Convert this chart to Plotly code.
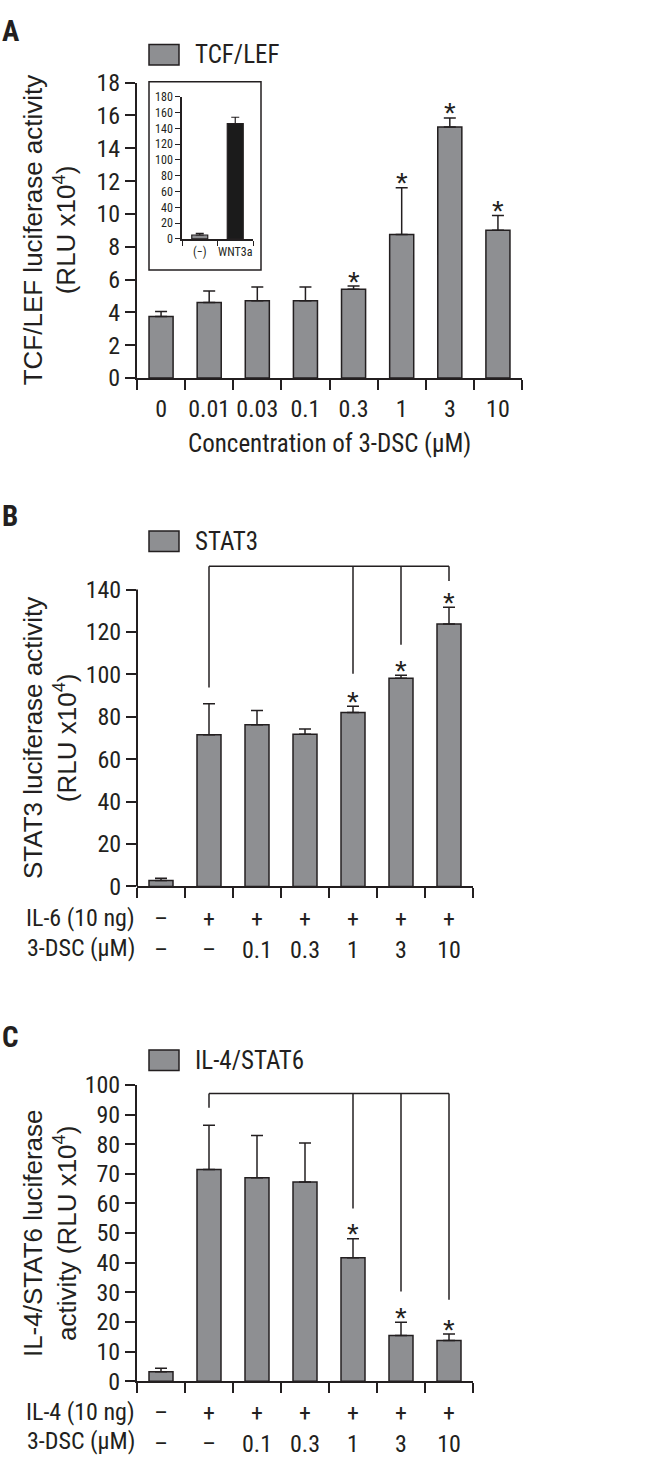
import plotly.graph_objects as go

W, H = 657, 1473
COND = "Roboto Condensed, Liberation Sans Narrow, Arial Narrow, sans-serif"
REG = "Liberation Sans, Arial, sans-serif"
INK = "#231f20"
GRAY = "#8e8f92"
FS = 24

# ---------------- data ----------------
# Panel A: TCF/LEF
a_cats = ["0", "0.01", "0.03", "0.1", "0.3", "1", "3", "10"]
a_vals = [3.75, 4.6, 4.7, 4.7, 5.4, 8.75, 15.3, 9.0]
a_err_top = [4.05, 5.3, 5.55, 5.55, 5.6, 11.6, 15.85, 9.9]
a_sig = [False, False, False, False, True, True, True, True]

# Inset of panel A
inset_cats = ["(−)", "WNT3a"]
inset_vals = [5, 146]
inset_err_top = [7, 154]

# Panels B and C share the treatment rows
il_row = ["–", "+", "+", "+", "+", "+", "+"]
dsc_row = ["–", "–", "0.1", "0.3", "1", "3", "10"]

# Panel B: STAT3
b_vals = [2.8, 71.5, 76.2, 71.7, 82.0, 98.2, 123.7]
b_err_top = [3.8, 86.2, 83.0, 74.2, 85.0, 99.6, 131.7]
b_sig = [False, False, False, False, True, True, True]
b_bracket_level = 151
b_bracket_drops = {1: 93.8, 4: 100.3, 5: 114, 6: 144}

# Panel C: IL-4/STAT6
c_vals = [3.2, 71.5, 68.7, 67.2, 41.7, 15.4, 13.7]
c_err_top = [4.4, 86.4, 82.9, 80.4, 48.1, 19.9, 15.9]
c_sig = [False, False, False, False, True, True, True]
c_bracket_level = 97.1
c_bracket_drops = {1: 92.3, 4: 58.3, 5: 30.3, 6: 27.5}

bc_cats = [f"{a}<br>{b}" for a, b in zip(il_row, dsc_row)]


def px(x):
    return x / W


def py(y):
    return 1 - y / H


fig = go.Figure()
annotations = []
shapes = []


def add_bars(x, vals, tops, xa, ya, colors=GRAY, width=0.5, errw=6, lw=1.5):
    fig.add_trace(go.Bar(
        x=x, y=vals, xaxis=xa, yaxis=ya, width=width,
        marker=dict(color=colors, line=dict(color=INK, width=lw)),
        error_y=dict(type="data", symmetric=False,
                     array=[t - v for t, v in zip(tops, vals)],
                     arrayminus=[0] * len(vals),
                     color=INK, thickness=lw, width=errw),
        showlegend=False, hoverinfo="skip"))


def add_stars(tops, sig, xa, ya):
    # x given as category index so numeric-looking category names are not misread
    for i, (t, s) in enumerate(zip(tops, sig)):
        if s:
            annotations.append(dict(text="*", x=i, y=t, xref=xa, yref=ya, showarrow=False,
                                    xanchor="center", yanchor="middle", yshift=5,
                                    font=dict(family=REG, size=30, color=INK)))


add_bars(a_cats, a_vals, a_err_top, "x", "y")
add_stars(a_err_top, a_sig, "x", "y")
add_bars(inset_cats, inset_vals, inset_err_top, "x4", "y4",
         colors=[GRAY, "#1b1b1b"], width=0.45, errw=4, lw=1.2)
add_bars(bc_cats, b_vals, b_err_top, "x2", "y2")
add_stars(b_err_top, b_sig, "x2", "y2")
add_bars(bc_cats, c_vals, c_err_top, "x3", "y3")
add_stars(c_err_top, c_sig, "x3", "y3")

axis_common = dict(showgrid=False, zeroline=False, ticks="outside", ticklen=10,
                   tickwidth=2, tickcolor=INK, linecolor=INK, linewidth=2,
                   tickfont=dict(family=COND, size=FS, color=INK), fixedrange=True)

xcat = dict(axis_common, type="category", tickson="boundaries", showline=True, tickangle=0)

fig.update_layout(
    width=W, height=H, autosize=False,
    margin=dict(l=0, r=0, t=0, b=0),
    paper_bgcolor="white", plot_bgcolor="rgba(0,0,0,0)",
    xaxis=dict(xcat, domain=[px(137), px(522)], anchor="y", range=[-0.5, 7.5],
               ticklabelstandoff=8),
    yaxis=dict(axis_common, domain=[py(371), py(70)], anchor="x", range=[0, 18],
               dtick=2, showline=True),
    xaxis2=dict(xcat, domain=[px(137), px(473)], anchor="y2", range=[-0.5, 6.5],
                ticklabelstandoff=10),
    yaxis2=dict(axis_common, domain=[py(889.3), py(554.3)], anchor="x2", range=[0, 155],
                tickvals=list(range(0, 141, 20)), showline=False),
    xaxis3=dict(xcat, domain=[px(137), px(473)], anchor="y3", range=[-0.5, 6.5],
                ticklabelstandoff=9),
    yaxis3=dict(axis_common, domain=[py(1393.7), py(1091.7)], anchor="x3", range=[0, 100],
                dtick=10, showline=True),
    xaxis4=dict(xcat, domain=[px(182), px(253)], anchor="y4", range=[-0.5, 1.5],
                ticklen=5, tickwidth=1.2, linewidth=1.5, ticklabelstandoff=1,
                tickfont=dict(family=COND, size=12, color=INK)),
    yaxis4=dict(axis_common, domain=[py(229.3), py(84.3)], anchor="x4", range=[0, 180],
                dtick=20, showline=True, ticklen=5, tickwidth=1.2, linewidth=1.5,
                tickfont=dict(family=COND, size=12, color=INK)),
)

# B y-axis line (axis range extended to hold the bracket)
shapes.append(dict(type="line", xref="x2 domain", yref="y2", x0=0, x1=0, y0=0, y1=140,
                   line=dict(color=INK, width=2)))


def bracket(xa, ya, level, drops):
    ks = sorted(drops)
    shapes.append(dict(type="line", xref=xa, yref=ya, x0=ks[0], x1=ks[-1], y0=level, y1=level,
                       line=dict(color=INK, width=1.5)))
    for k in ks:
        shapes.append(dict(type="line", xref=xa, yref=ya, x0=k, x1=k, y0=level, y1=drops[k],
                           line=dict(color=INK, width=1.5)))


bracket("x2", "y2", b_bracket_level, b_bracket_drops)
bracket("x3", "y3", c_bracket_level, c_bracket_drops)

# inset frame
shapes.append(dict(type="rect", xref="paper", yref="paper", x0=px(149), x1=px(261),
                   y0=py(261), y1=py(69), line=dict(color=INK, width=1.5)))

legend_items = [("TCF/LEF", 31), ("STAT3", 527), ("IL-4/STAT6", 1056)]
for name, top in legend_items:
    shapes.append(dict(type="rect", xref="paper", yref="paper", x0=px(149), x1=px(179),
                       y0=py(top + 21), y1=py(top), fillcolor=GRAY,
                       line=dict(color=INK, width=1.5)))
    annotations.append(dict(text=name, xref="paper", yref="paper", x=px(193), y=py(top + 10.5),
                            xanchor="left", yanchor="middle", showarrow=False,
                            font=dict(family=COND, size=FS + 1, color=INK)))

for letter, yc in [("A", 17), ("B", 512), ("C", 1043)]:
    annotations.append(dict(text=f"<b>{letter}</b>", xref="paper", yref="paper", x=0, y=py(yc),
                            xanchor="left", yanchor="middle", showarrow=False,
                            font=dict(family=COND, size=29, color=INK)))

ytitles = [("TCF/LEF luciferase activity<br>(RLU x10<sup>4</sup>)", 220.5),
           ("STAT3 luciferase activity<br>(RLU x10<sup>4</sup>)", 738),
           ("IL-4/STAT6 luciferase<br>activity (RLU x10<sup>4</sup>)", 1242.7)]
for txt, yc in ytitles:
    annotations.append(dict(text=txt, xref="paper", yref="paper", x=px(50), y=py(yc),
                            xanchor="center", yanchor="middle", textangle=-90, showarrow=False,
                            font=dict(family=REG, size=26, color=INK)))

annotations.append(dict(text="Concentration of 3-DSC (μM)", xref="paper", yref="paper",
                        x=px(329.5), y=py(438), xanchor="center", yanchor="middle",
                        showarrow=False, font=dict(family=COND, size=FS + 1, color=INK)))

for lab, ys in [("IL-6 (10 ng)", 921.7), ("3-DSC (μM)", 951.7),
                ("IL-4 (10 ng)", 1425), ("3-DSC (μM)", 1455)]:
    annotations.append(dict(text=lab, xref="paper", yref="paper", x=px(137), y=py(ys),
                            xanchor="right", yanchor="middle", showarrow=False,
                            font=dict(family=COND, size=FS, color=INK)))

fig.update_layout(shapes=shapes, annotations=annotations)
fig.write_html("out.html", config={"displayModeBar": False},
               post_script="document.body.style.margin='0px';")
